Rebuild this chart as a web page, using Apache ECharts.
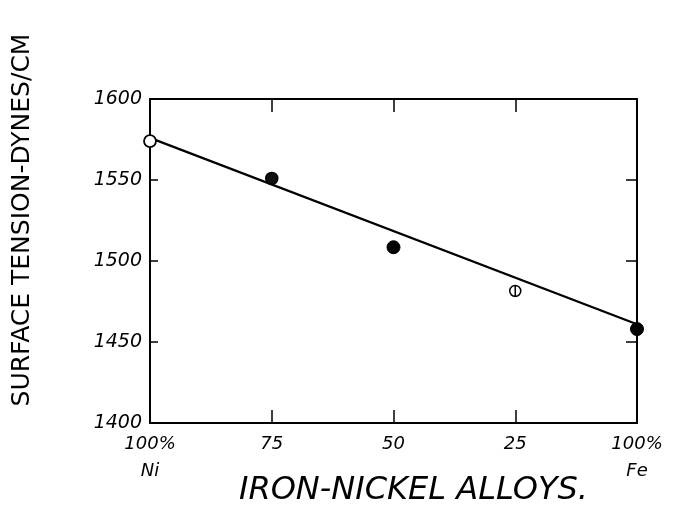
<!DOCTYPE html>
<html>
<head>
<meta charset="utf-8">
<script src="https://cdn.jsdelivr.net/npm/echarts@6/dist/echarts.min.js"></script>
<style>html,body{margin:0;padding:0;background:#fff;}#c{width:688px;height:507px;}</style>
</head>
<body>
<div id="c"></div>
<script>
// Data (x = % nickel; 100 = pure Ni, 0 = pure Fe)
const nickelPct = [100, 75, 50, 25, 0];
const tension = [1574, 1551, 1508.5, 1481.5, 1458];
const markerKind = ['open', 'half', 'filled', 'crossed', 'filled'];
const fitX = [100, 0];
const fitY = [1576, 1461];
const xTickValues = [100, 75, 50, 25, 0];
const xTickLabels = ['100%\nNi', '75', '50', '25', '100%\nFe'];
const yTickLabels = ['1400', '1450', '1500', '1550', '1600'];

const FONT = 'DejaVu Sans';
function pts(kind) {
  const out = [];
  nickelPct.forEach((x, i) => { if (markerKind[i] === kind) out.push([x, tension[i]]); });
  return out;
}
const labelMap = {};
xTickValues.forEach((v, i) => labelMap[v] = xTickLabels[i]);

const chart = echarts.init(document.getElementById('c'), null, {renderer: 'canvas'});
const axisLine = {show: true, onZero: false, lineStyle: {color: '#000', width: 2}};
chart.setOption({
  backgroundColor: '#fff',
  animation: false,
  grid: {left: 150, right: 51, top: 99, bottom: 84, containLabel: false, outerBoundsMode: 'none'},
  xAxis: [{
    type: 'value', min: 0, max: 100, interval: 25, inverse: true, position: 'bottom',
    axisLine: axisLine,
    axisTick: {show: true, inside: true, length: 13, lineStyle: {color: '#000', width: 1.5}},
    splitLine: {show: false},
    axisLabel: {
      color: '#000', fontFamily: FONT, fontStyle: 'italic', fontSize: 18, lineHeight: 27, margin: 8,
      formatter: v => labelMap[v] !== undefined ? labelMap[v] : ''
    },
    name: 'IRON-NICKEL ALLOYS.', nameLocation: 'middle', nameGap: 52, nameMoveOverlap: false,
    nameTextStyle: {color: '#000', fontFamily: FONT, fontStyle: 'italic', fontSize: 32, padding: [0, 0, 0, 40]}
  }, {
    type: 'value', min: 0, max: 100, interval: 25, inverse: true, position: 'top',
    axisLine: axisLine,
    axisTick: {show: true, inside: true, length: 13, lineStyle: {color: '#000', width: 1.5}},
    splitLine: {show: false}, axisLabel: {show: false}
  }],
  yAxis: [{
    type: 'value', min: 1400, max: 1600, interval: 50, position: 'left',
    axisLine: axisLine,
    axisTick: {show: true, inside: true, length: 8, lineStyle: {color: '#000', width: 1.5}},
    splitLine: {show: false},
    axisLabel: {
      color: '#000', fontFamily: FONT, fontStyle: 'italic', fontSize: 19, margin: 8,
      formatter: v => yTickLabels[Math.round((v - 1400) / 50)]
    },
    name: 'SURFACE TENSION-DYNES/CM', nameLocation: 'middle', nameGap: 115, nameRotate: 90, nameMoveOverlap: false,
    nameTextStyle: {color: '#000', fontFamily: FONT, fontSize: 25, padding: [0, 0, 0, 82]}
  }, {
    type: 'value', min: 1400, max: 1600, interval: 50, position: 'right',
    axisLine: axisLine,
    axisTick: {show: true, inside: true, length: 11, lineStyle: {color: '#000', width: 1.5}},
    splitLine: {show: false}, axisLabel: {show: false}
  }],
  series: [
    {
      type: 'line', data: fitX.map((x, i) => [x, fitY[i]]), symbol: 'none',
      lineStyle: {color: '#000', width: 2.2}, z: 2
    },
    {
      type: 'scatter', data: pts('open'), symbol: 'circle', symbolSize: 12,
      itemStyle: {color: '#fff', borderColor: '#000', borderWidth: 1.8, opacity: 1}, z: 3
    },
    {
      type: 'scatter', data: pts('filled'), symbol: 'circle', symbolSize: 13,
      itemStyle: {color: '#000', borderColor: '#000', borderWidth: 1, opacity: 1}, z: 3
    },
    {
      type: 'scatter', data: pts('half'),
      symbol: 'path://M0,5 A5,5 0 1,1 10,5 A5,5 0 1,1 0,5 Z', symbolSize: 12,
      itemStyle: {color: '#111', borderColor: '#000', borderWidth: 1.5, opacity: 1}, z: 3
    },
    {
      type: 'scatter', data: pts('crossed'),
      symbol: 'path://M5,0 A5,5 0 1,1 5,10 A5,5 0 1,1 5,0 Z M5,0 L5,10', symbolSize: 11,
      itemStyle: {color: '#fff', borderColor: '#000', borderWidth: 1.5, opacity: 1}, z: 3
    }
  ]
});
</script>
</body>
</html>
